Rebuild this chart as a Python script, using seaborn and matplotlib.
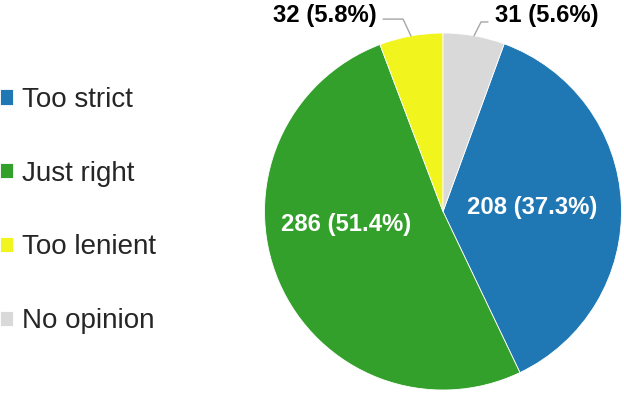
import matplotlib
matplotlib.use("Agg")
import matplotlib.pyplot as plt
import seaborn as sns
import numpy as np

# data
categories = ["Too strict", "Just right", "Too lenient", "No opinion"]
counts = [208, 286, 32, 31]
pcts = [37.3, 51.4, 5.8, 5.6]
colors = ["#1F77B4", "#34A02C", "#F2F51D", "#D9D9D9"]

# label layout (axes data units, pie radius = 1)
label_pos = [(0.50, 0.02), (-0.54, -0.075), (-0.66, 1.10), (0.58, 1.10)]
label_color = ["white", "white", "black", "black"]
elbow = [None, None, (-0.224, 1.078), (0.213, 1.062)]
line_end = [None, None, (-0.336, 1.078), (0.252, 1.062)]

sns.set_theme(style="white")
plt.rcParams["font.family"] = ["Liberation Sans", "DejaVu Sans"]

fig = plt.figure(figsize=(6.24, 3.93), dpi=100)
ax = fig.add_axes([0.4239, 0.0076, 0.5721, 0.9084])

start = 90 - 360 * counts[-1] / sum(counts)
wedges, _ = ax.pie(counts, colors=colors, startangle=start, counterclock=False,
                   wedgeprops=dict(edgecolor="white", linewidth=0.6))
ax.set_xlim(-1, 1)
ax.set_ylim(-1, 1)
ax.set_aspect("equal")
ax.axis("off")

for i, w in enumerate(wedges):
    txt = f"{counts[i]} ({pcts[i]}%)"
    ax.text(*label_pos[i], txt, ha="center", va="center", fontsize=17.2,
            fontweight="bold", color=label_color[i], clip_on=False)
    if elbow[i] is not None:
        mid = np.deg2rad((w.theta1 + w.theta2) / 2)
        px, py = np.cos(mid), np.sin(mid)
        ax.plot([px, elbow[i][0], line_end[i][0]], [py, elbow[i][1], line_end[i][1]],
                color="#A6A6A6", lw=1, clip_on=False)

fig.legend(wedges, categories, loc="center left", bbox_to_anchor=(0.0, 0.4644),
           frameon=False, fontsize=20, handlelength=0.48, handleheight=0.48,
           handletextpad=0.3, labelspacing=1.72, borderpad=0, borderaxespad=0)

fig.savefig("out.png", dpi=100)
